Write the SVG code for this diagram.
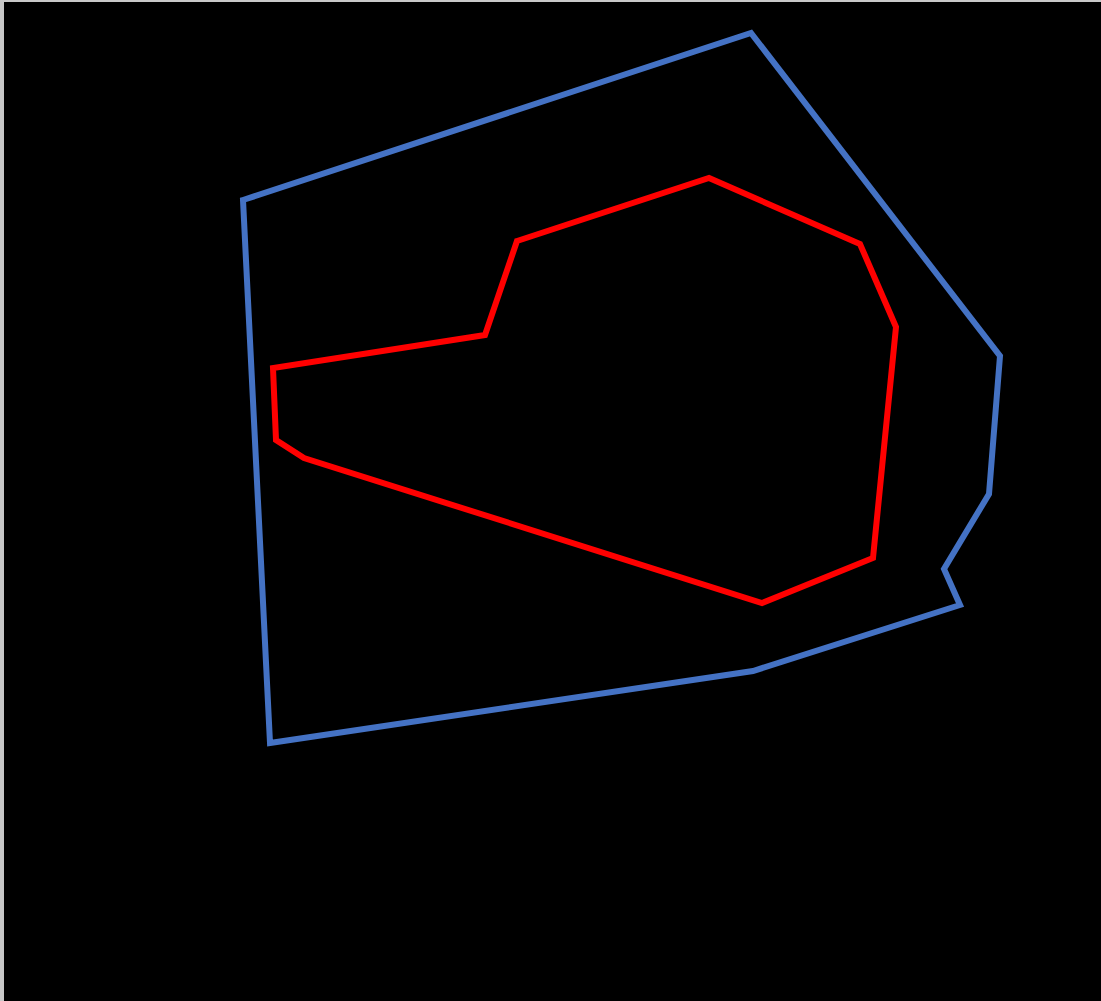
<svg xmlns="http://www.w3.org/2000/svg" width="1101" height="1001" viewBox="0 0 1101 1001">
<style>
.outline{fill:none;stroke-width:6;stroke-linejoin:miter}
.blue{stroke:#4472C4}
.red{stroke:#FF0000}
</style>
<rect x="0" y="0" width="1101" height="1001" fill="#C8C8C8"/>
<rect x="4" y="2" width="1097" height="999" fill="#000000"/>
<g id="outer-boundary">
<polygon class="outline blue" points="243,200 751,33 1000,356 989,494 944,569 960,605 753,671 270,743"/>
</g>
<g id="inner-boundary">
<polygon class="outline red" points="517,241 709,178 860,244 896,327 873,558 762,603 304,458 276,440 273,368 485,335"/>
</g>
</svg>
